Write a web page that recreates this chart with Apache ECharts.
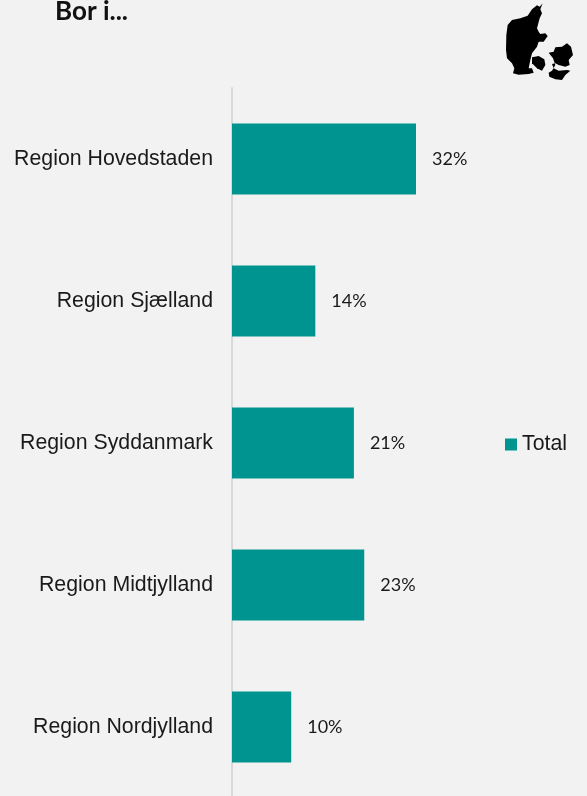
<!DOCTYPE html>
<html><head><meta charset="utf-8">
<style>html,body{margin:0;padding:0;background:#f2f2f2}#c{width:587px;height:796px}</style>
<script src="https://cdn.jsdelivr.net/npm/echarts@6/dist/echarts.min.js"></script>
</head><body><div id="c"></div>
<script>
const categories = ['Region Hovedstaden','Region Sjælland','Region Syddanmark','Region Midtjylland','Region Nordjylland'];
const values = [32, 14.49, 21.2, 23, 10.3];
const seriesName = 'Total';
const titleText = 'Bor i...';
const jutland = [[167,10],[158,20],[150,16],[135,28],[122,47],[100,55],[75,60],[62,75],[58,105],[57,150],[60,175],[75,190],[82,205],[78,220],[95,224],[125,222],[140,218],[135,205],[125,205],[130,180],[135,160],[150,140],[155,125],[170,125],[182,108],[175,100],[160,102],[155,95],[150,85],[158,55],[165,40],[160,28]];
const fyn = [[135,172],[155,168],[172,178],[175,195],[165,212],[150,205],[135,190]];
const zealand = [[185,158],[200,155],[205,142],[225,140],[240,130],[252,140],[258,165],[245,180],[248,195],[235,200],[215,195],[205,190],[195,192],[200,205],[215,212],[240,210],[250,212],[235,225],[225,240],[205,238],[187,230],[185,218],[195,212],[205,195],[198,175]];
const mapPart = pts => ({type:'polygon',x:487,y:0,scaleX:1/3,scaleY:1/3,shape:{points:pts},style:{fill:'#000'},silent:true});
const chart = echarts.init(document.getElementById('c'),null,{renderer:'canvas'});
chart.setOption({
  backgroundColor:'#f2f2f2',
  animation:false,
  title:{text:titleText,left:50,top:-6,textStyle:{fontFamily:'Lato',fontWeight:'bold',fontSize:26,color:'#111'}},
  legend:{data:[seriesName],left:500,top:429,icon:'rect',itemWidth:12,itemHeight:12,itemGap:5,
    textStyle:{fontFamily:'Liberation Sans',fontSize:21.3,color:'#1a1a1a'},selectedMode:false},
  grid:{left:232,top:88,width:287.5,height:710,containLabel:false,outerBoundsMode:'none'},
  xAxis:{type:'value',min:0,max:50,show:false},
  yAxis:{type:'category',data:categories,inverse:true,offset:1,
    axisLine:{show:true,lineStyle:{color:'#d9d9d9',width:2}},axisTick:{show:false},
    axisLabel:{fontFamily:'Liberation Sans',fontSize:21.3,color:'#1a1a1a',margin:18}},
  series:[{name:seriesName,type:'bar',data:values,barWidth:71,itemStyle:{color:'#009490'},
    label:{show:true,position:'right',distance:16,fontFamily:'Lato',fontSize:18,color:'#1a1a1a',
      formatter:p=>Math.round(p.value)+'%'}}],
  graphic:[mapPart(jutland),mapPart(fyn),mapPart(zealand)]
});
</script></body></html>
